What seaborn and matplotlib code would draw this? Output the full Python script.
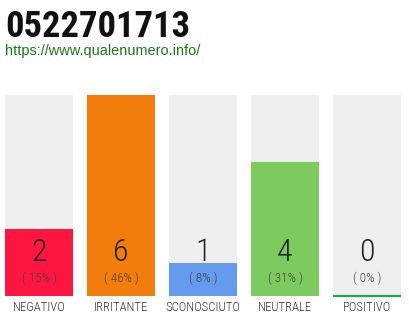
import matplotlib
matplotlib.use('Agg')
import matplotlib.pyplot as plt
from matplotlib import font_manager as fm
import seaborn as sns
import pandas as pd

categories = ['NEGATIVO', 'IRRITANTE', 'SCONOSCIUTO', 'NEUTRALE', 'POSITIVO']
counts = [2, 6, 1, 4, 0]
percents = [15, 46, 8, 31, 0]
colors = ['#ff1640', '#f27d0c', '#659bee', '#7dca5e', '#1fa844']
title = '0522701713'
url = 'https://www.qualenumero.info/'

sns.set_theme(style='white')
plt.rcParams['font.family'] = ['DejaVu Sans']

fl = fm.fontManager.ttflist


def has(name, **kw):
    return any(f.name == name and all(getattr(f, k) == v for k, v in kw.items()) for f in fl)


narrow = None
for nm in ['Roboto Condensed', 'Liberation Sans Narrow', 'Open Sans Condensed', 'Noto Sans Condensed']:
    if has(nm):
        narrow = dict(family=nm)
        break
if narrow is None:
    for nm in ['DejaVu Sans', 'Noto Sans', 'Open Sans']:
        if has(nm, stretch='condensed'):
            narrow = dict(family=nm, stretch='condensed')
            break
if narrow is None:
    narrow = dict(family='Roboto')
light = dict(narrow)
if any(f.name == narrow['family'] and isinstance(f.weight, int) and f.weight <= 300 for f in fl):
    light['weight'] = 'light'

fig = plt.figure(figsize=(4.1, 3.2), dpi=100)
ax = fig.add_axes([0, 24 / 320, 1, 201 / 320])
bw = 68 / 82
df = pd.DataFrame({'cat': categories, 'count': counts, 'bg': [max(counts)] * len(counts)})
sns.barplot(data=df, x='cat', y='bg', color='#efefef', saturation=1, width=bw,
            linewidth=0, ax=ax)
sns.barplot(data=df, x='cat', y='count', hue='cat', palette=colors, saturation=1,
            width=bw, linewidth=0, legend=False, ax=ax)
for i, c in enumerate(counts):
    if c == 0:
        ax.hlines(0, i - bw / 2, i + bw / 2, color=colors[i], lw=1.6, clip_on=False)

ax.set_xlim(-39 / 82, (410 - 39) / 82)
ax.set_ylim(0, max(counts))
for s in ax.spines.values():
    s.set_visible(False)
ax.set_yticks([])
ax.set_xlabel('')
ax.set_ylabel('')
ax.tick_params(axis='x', length=0, labelbottom=False)

renderer = fig.canvas.get_renderer()


def fit(t, target):
    for _ in range(2):
        w = t.get_window_extent(renderer).width
        t.set_fontsize(t.get_fontsize() * target / w)


# category labels (fit the widest one to its reference width)
labs = []
for i, cat in enumerate(categories):
    labs.append(ax.text(i, -0.33, cat, ha='center', va='center', fontsize=10,
                        color='#333333', **light))
fit(labs[2], 73)
for t in labs:
    t.set_fontsize(min(labs[2].get_fontsize(), 11))

nums, pcts = [], []
for i, (c, p) in enumerate(zip(counts, percents)):
    nums.append(ax.text(i, 1.313, str(c), ha='center', va='center', fontsize=23,
                        color='#222222', **light))
    pcts.append(ax.text(i, 0.537, f'( {p}% )', ha='center', va='center', fontsize=9,
                        color='#444444', **light))
fit(pcts[1], 35)
for t in pcts:
    t.set_fontsize(pcts[1].get_fontsize())

tt = fig.text(5 / 410, 1 - 37 / 320, title, fontsize=29, fontweight='bold', color='#111111',
              va='baseline', ha='left', **narrow)
fit(tt, 185)
ut = fig.text(5 / 410, 1 - 55 / 320, url, fontsize=10.4, color='#1a7a1a',
              family=['Liberation Sans', 'DejaVu Sans'], va='baseline', ha='left')
fit(ut, 195)

fig.savefig('out.png', dpi=100)
